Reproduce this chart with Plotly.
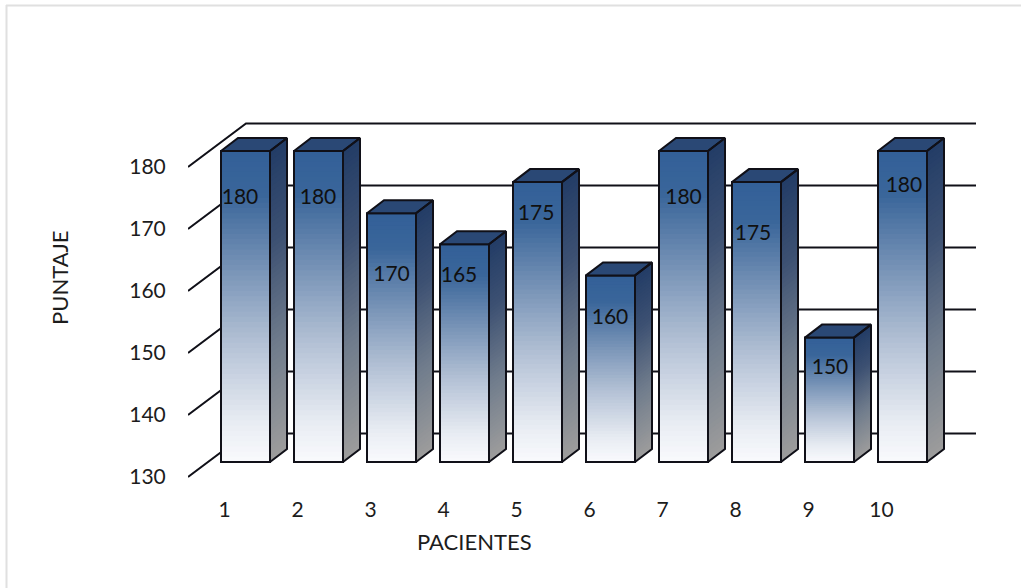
import plotly.graph_objects as go

# Scores per patient
pacientes = [1, 2, 3, 4, 5, 6, 7, 8, 9, 10]
puntaje = [180, 180, 170, 165, 175, 160, 180, 175, 150, 180]
ticks_puntaje = [130, 140, 150, 160, 170, 180]
etiqueta_y = [172.3, 172.3, 159.9, 159.8, 169.7, 153.0, 172.3, 166.5, 145.0, 174.2]
etiqueta_dx = [-0.075, -0.007, 0.0, -0.075, -0.02, -0.007, 0.0, -0.048, 0.007, 0.02]

W, H = 1021, 588
FONT = "Lato"
INK = "#101018"
TEXT = "#1c1c1c"

# Pixel layout: front plane of the box, and the plane the bars stand on
BOX_LEFT, PX_PER_CAT = 188.0, 73.0
BOX_Y130, BOX_PX_UNIT = 477.0, 6.2
BAR_LEFT_SHIFT, BAR_Y130, BAR_PX_UNIT = 21.0, 462.0, 6.22
Y_LOW, Y_HIGH = 128.0, 190.0
X_LOW, X_HIGH = 0.5, 11.5

# Perspective offsets in axis units
WALL_DX, WALL_DY = 58.0 / PX_PER_CAT, 43.5 / BOX_PX_UNIT
BAR_DX, BAR_DY = 17.0 / PX_PER_CAT, 13.0 / BAR_PX_UNIT
BAR_W = 49.0 / PX_PER_CAT
BASE = 130.0
LEVELS = 60

FRONT_STOPS = [(0.0, (248, 249, 252)), (0.12, (232, 236, 243)), (0.38, (178, 192, 212)),
               (0.65, (110, 140, 178)), (0.85, (58, 102, 154)), (1.0, (50, 95, 152))]
SIDE_STOPS = [(0.0, (156, 156, 156)), (0.35, (112, 124, 140)), (0.7, (60, 80, 114)), (1.0, (34, 60, 102))]


def mix(stops, f):
    for (a, ca), (b, cb) in zip(stops, stops[1:]):
        if f <= b:
            t = (f - a) / (b - a)
            return "rgb(%d,%d,%d)" % tuple(round(p + (q - p) * t) for p, q in zip(ca, cb))
    return "rgb(%d,%d,%d)" % stops[-1][1]


def h_domain(left):
    return [left / W, (left + (X_HIGH - X_LOW) * PX_PER_CAT) / W]


def v_domain(y130, unit):
    bottom = y130 + (130 - Y_LOW) * unit
    top = y130 - (Y_HIGH - 130) * unit
    return [1 - bottom / H, 1 - top / H]


fig = go.Figure()

# Back wall and side wall rulings
for v in ticks_puntaje:
    fig.add_trace(go.Scatter(
        x=[X_LOW, X_LOW + WALL_DX, 10.5 + WALL_DX], y=[v, v + WALL_DY, v + WALL_DY],
        mode="lines", line=dict(color=INK, width=2), hoverinfo="skip",
        showlegend=False, xaxis="x", yaxis="y"))

# Front faces: overlaid bars, each level starting higher, give the vertical gradient
for k in range(LEVELS):
    f = k / LEVELS
    bases = [BASE + f * (v - BASE) for v in puntaje]
    fig.add_trace(go.Bar(
        x=pacientes, y=[v - b for v, b in zip(puntaje, bases)], base=bases, width=BAR_W,
        marker=dict(color=mix(FRONT_STOPS, f), line=dict(width=0)),
        hoverinfo="skip", showlegend=False, xaxis="x2", yaxis="y2"))

# Outline of the front faces
fig.add_trace(go.Bar(
    x=pacientes, y=[v - BASE for v in puntaje], base=BASE, width=BAR_W,
    marker=dict(color="rgba(0,0,0,0)", line=dict(color=INK, width=2)),
    hovertemplate="%{x}: %{customdata}<extra></extra>", customdata=puntaje,
    showlegend=False, xaxis="x2", yaxis="y2"))

# Side faces, same painter's approach
for k in range(LEVELS):
    f = k / LEVELS
    xs, ys = [], []
    for p, v in zip(pacientes, puntaje):
        b = BASE + f * (v - BASE)
        r = p + BAR_W / 2
        xs += [r, r + BAR_DX, r + BAR_DX, r, r, None]
        ys += [b, b + BAR_DY, v + BAR_DY, v, b, None]
    fig.add_trace(go.Scatter(
        x=xs, y=ys, mode="none", fill="toself", fillcolor=mix(SIDE_STOPS, f),
        hoverinfo="skip", showlegend=False, xaxis="x2", yaxis="y2"))

# Top faces and the outlines of the box sides
top_x, top_y, side_x, side_y = [], [], [], []
for p, v in zip(pacientes, puntaje):
    l, r = p - BAR_W / 2, p + BAR_W / 2
    top_x += [l, l + BAR_DX, r + BAR_DX, r, l, None]
    top_y += [v, v + BAR_DY, v + BAR_DY, v, v, None]
    side_x += [r, r + BAR_DX, r + BAR_DX, r, r, None]
    side_y += [BASE, BASE + BAR_DY, v + BAR_DY, v, BASE, None]
fig.add_trace(go.Scatter(
    x=top_x, y=top_y, mode="lines", fill="toself", fillcolor="#2a4875",
    line=dict(color=INK, width=2), hoverinfo="skip", showlegend=False, xaxis="x2", yaxis="y2"))
fig.add_trace(go.Scatter(
    x=side_x, y=side_y, mode="lines", line=dict(color=INK, width=2),
    hoverinfo="skip", showlegend=False, xaxis="x2", yaxis="y2"))

# Value labels
fig.add_trace(go.Scatter(
    x=[p + d for p, d in zip(pacientes, etiqueta_dx)], y=etiqueta_y,
    text=[str(v) for v in puntaje], mode="text", textposition="middle center",
    textfont=dict(family=FONT, size=21, color="#101010"),
    hoverinfo="skip", showlegend=False, xaxis="x2", yaxis="y2"))

axis_font = dict(family=FONT, size=21, color=TEXT)
title_font = dict(family=FONT, size=22, color=TEXT)
fig.update_layout(
    width=W, height=H, autosize=False,
    margin=dict(l=0, r=0, t=0, b=0),
    paper_bgcolor="white", plot_bgcolor="rgba(0,0,0,0)",
    barmode="overlay", showlegend=False,
    xaxis=dict(domain=h_domain(BOX_LEFT), range=[X_LOW, X_HIGH], anchor="y",
               tickmode="array", tickvals=pacientes, ticktext=[str(p) for p in pacientes],
               ticks="outside", ticklen=1, tickcolor="rgba(0,0,0,0)", tickfont=axis_font,
               showgrid=False, zeroline=False, showline=False),
    yaxis=dict(domain=v_domain(BOX_Y130, BOX_PX_UNIT), range=[Y_LOW, Y_HIGH], anchor="x",
               tickmode="array", tickvals=ticks_puntaje, ticktext=[str(t) for t in ticks_puntaje],
               ticks="outside", ticklen=17, tickcolor="rgba(0,0,0,0)", tickfont=axis_font,
               showgrid=False, zeroline=False, showline=False),
    xaxis2=dict(domain=h_domain(BOX_LEFT + BAR_LEFT_SHIFT), range=[X_LOW, X_HIGH],
                anchor="y2", visible=False),
    yaxis2=dict(domain=v_domain(BAR_Y130, BAR_PX_UNIT), range=[Y_LOW, Y_HIGH],
                anchor="x2", visible=False),
    annotations=[
        dict(text="PUNTAJE", x=59 / W, y=1 - 278 / H, xref="paper", yref="paper",
             textangle=-90, showarrow=False, font=title_font, xanchor="center", yanchor="middle"),
        dict(text="PACIENTES", x=474 / W, y=1 - 541 / H, xref="paper", yref="paper",
             showarrow=False, font=title_font, xanchor="center", yanchor="middle"),
    ],
    shapes=[
        dict(type="line", xref="paper", yref="paper", x0=6 / W, x1=1, y0=1 - 5.5 / H, y1=1 - 5.5 / H,
             line=dict(color="#e0e0e0", width=2)),
        dict(type="line", xref="paper", yref="paper", x0=6.5 / W, x1=6.5 / W, y0=0, y1=1 - 5 / H,
             line=dict(color="#e0e0e0", width=2)),
    ],
)

fig.write_html("out.html")
